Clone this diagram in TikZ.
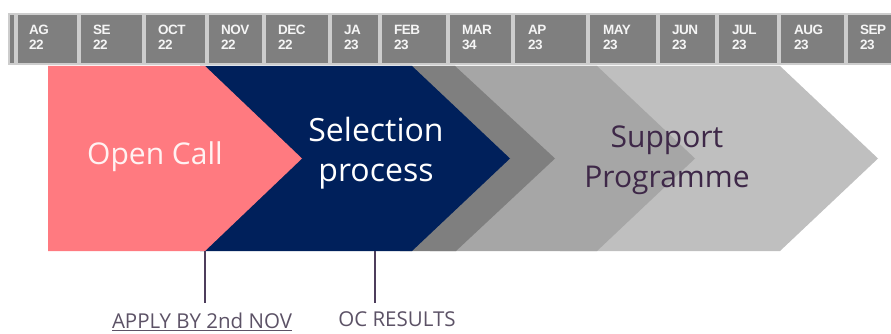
\documentclass[tikz,border=0pt]{standalone}
\usepackage{fontspec}
\setmainfont{Open Sans}
\newfontfamily\monthfont{Liberation Sans}
\usepackage{tikz}

\definecolor{ocpink}{RGB}{255,122,128}
\definecolor{ocnavy}{RGB}{0,32,91}
\definecolor{stepdark}{RGB}{127,127,127}
\definecolor{stepmid}{RGB}{166,166,166}
\definecolor{steplight}{RGB}{191,191,191}
\definecolor{cellgray}{RGB}{127,127,127}
\definecolor{cellline}{RGB}{205,205,205}
\definecolor{supportpurple}{RGB}{62,40,72}
\definecolor{notegray}{RGB}{92,82,102}
\definecolor{tickpurple}{RGB}{78,62,92}

\tikzset{
  cell/.style={fill=cellgray, draw=cellline, line width=1.5pt},
  month/.style={anchor=base west, inner sep=0, text=white!92!gray, font=\monthfont\bfseries\fontsize{13.5}{14}\selectfont\addfontfeature{LetterSpace=-4}},
  phase/.style={align=center, font=\fontsize{30}{40}\selectfont},
  note/.style={text=notegray, font=\fontsize{20.5}{23}\selectfont},
  tick/.style={draw=tickpurple, line width=1.2pt}
}

\begin{document}
\begin{tikzpicture}[x=1pt, y=-1pt]
\useasboundingbox (0,0) rectangle (891,334);
%timeline
\draw[cell] (9,14) rectangle (15,64);
\draw[cell] (17,14) rectangle (78,64);
\draw[cell] (80,14) rectangle (143,64);
\draw[cell] (145,14) rectangle (206,64);
\draw[cell] (208,14) rectangle (263,64);
\draw[cell] (265,14) rectangle (329,64);
\draw[cell] (331,14) rectangle (379,64);
\draw[cell] (381,14) rectangle (447,64);
\draw[cell] (449,14) rectangle (512,64);
\draw[cell] (514,14) rectangle (587,64);
\draw[cell] (589,14) rectangle (657,64);
\draw[cell] (659,14) rectangle (716,64);
\draw[cell] (718,14) rectangle (778,64);
\draw[cell] (780,14) rectangle (845,64);
\draw[cell] (847,14) rectangle (895,64);
\node[month] (m1) at (29,35) {AG};   \node[month] (y1) at (29,50) {22};
\node[month] (m2) at (93,35) {SE};   \node[month] (y2) at (93,50) {22};
\node[month] (m3) at (158,35) {OCT}; \node[month] (y3) at (158,50) {22};
\node[month] (m4) at (221,35) {NOV}; \node[month] (y4) at (221,50) {22};
\node[month] (m5) at (278,35) {DEC}; \node[month] (y5) at (278,50) {22};
\node[month] (m6) at (344,35) {JA};  \node[month] (y6) at (344,50) {23};
\node[month] (m7) at (394,35) {FEB}; \node[month] (y7) at (394,50) {23};
\node[month] (m8) at (462,35) {MAR}; \node[month] (y8) at (462,50) {34};
\node[month] (m9) at (528,35) {AP};  \node[month] (y9) at (528,50) {23};
\node[month] (m10) at (603,35) {MAY}; \node[month] (y10) at (603,50) {23};
\node[month] (m11) at (672,35) {JUN}; \node[month] (y11) at (672,50) {23};
\node[month] (m12) at (732,35) {JUL}; \node[month] (y12) at (732,50) {23};
\node[month] (m13) at (794,35) {AUG}; \node[month] (y13) at (794,50) {23};
\node[month] (m14) at (860,35) {SEP}; \node[month] (y14) at (860,50) {23};
%phases
\fill[steplight] (560,66) -- (780,66) -- (878,158.5) -- (780,251) -- (560,251) -- cycle;
\fill[stepmid] (430,66) -- (597,66) -- (695,158.5) -- (597,251) -- (430,251) -- cycle;
\fill[stepdark] (400,66) -- (455,66) -- (555,158.5) -- (456,251) -- (400,251) -- cycle;
\fill[ocnavy] (200,66) -- (412,66) -- (510,158.5) -- (412,251) -- (200,251) -- cycle;
\fill[ocpink] (48,66) -- (205,66) -- (302,158.5) -- (205,251) -- (48,251) -- cycle;
\node[phase, text=white!90!ocpink] (opencall) at (155,157) {Open Call};
\node[phase, text=white, font=\fontsize{32}{40}\selectfont] (selection) at (376,153) {Selection\\process};
\node[phase, text=supportpurple] (support) at (667,160) {Support\\Programme};
%notes
\coordinate (applytop) at (205,251);
\coordinate (applyend) at (205,303);
\coordinate (resultstop) at (375,251);
\coordinate (resultsend) at (375,303);
\node[note] (apply) at (202,322) {\underline{APPLY BY 2nd NOV}};
\node[note] (results) at (397,319) {OC RESULTS};
\draw[tick] (applytop) -- (applyend);
\draw[tick] (resultstop) -- (resultsend);
\end{tikzpicture}
\end{document}
